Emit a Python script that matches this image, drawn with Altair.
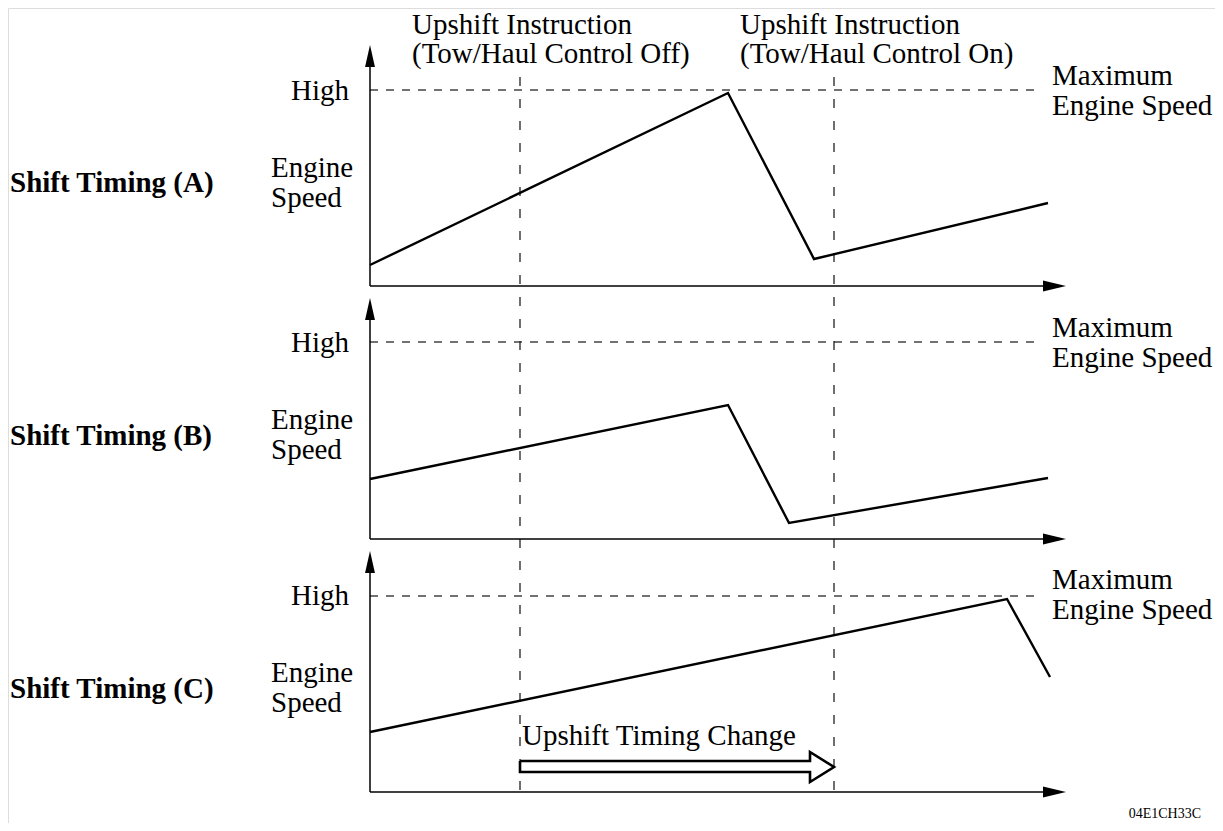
import altair as alt
import pandas as pd

# ---------------- data (diagram units ~ reference pixels) ----------------
panels = ["A", "B", "C"]
axis_x = 370
axis_top = [45, 298, 551]          # tips of the engine-speed axis arrows
axis_base = [286, 539, 792]        # time axes
high_level = [90, 342, 596]        # "High" = maximum engine speed
time_end = 1066                    # tip of the time-axis arrows
high_end = 1040

trace_A_t = [370, 728, 814, 1048]
trace_A_v = [265, 93, 259, 203]
trace_B_t = [370, 728, 789, 1048]
trace_B_v = [479, 405, 523, 478]
trace_C_t = [370, 1007, 1050]
trace_C_v = [732, 599, 677]

instr_off_t = 520
instr_on_t = 834
instr_top = 77

# hollow arrow "Upshift Timing Change"
arrow_t = [520, 810, 810, 834, 810, 810, 520, 520]
arrow_v = [761, 761, 752, 767, 782, 772, 772, 761]

panel_labels = ["Shift Timing (A)", "Shift Timing (B)", "Shift Timing (C)"]
panel_label_v = [192, 445, 698]
high_label_v = [100, 352, 605]
engine_v = [177, 429, 682]
speed_v = [207, 459, 712]
max_v = [85, 337, 589]
max2_v = [115, 367, 619]

top_texts = ["Upshift Instruction", "(Tow/Haul Control Off)",
             "Upshift Instruction", "(Tow/Haul Control On)"]
top_t = [412, 412, 740, 740]
top_v = [34, 63, 34, 63]

# ---------------- tables ----------------
FONT = "Liberation Serif, Times New Roman, Times, DejaVu Serif, serif"
FS = 29
xs = alt.Scale(domain=[8, 1215], nice=False, zero=False)
ys = alt.Scale(domain=[8, 823], nice=False, zero=False, reverse=True)


def X(f):
    return alt.X(f, type="quantitative", scale=xs, axis=None)


def Y(f):
    return alt.Y(f, type="quantitative", scale=ys, axis=None)


rows = []
for p, tt, vv in zip(panels, [trace_A_t, trace_B_t, trace_C_t],
                     [trace_A_v, trace_B_v, trace_C_v]):
    for i, (t, v) in enumerate(zip(tt, vv)):
        rows.append({"panel": p, "t": t, "v": v, "o": i})
traces = pd.DataFrame(rows)

solid = []
for top, base in zip(axis_top, axis_base):
    solid.append({"t": axis_x, "t2": axis_x, "v": top + 12, "v2": base})
    solid.append({"t": axis_x, "t2": time_end - 12, "v": base, "v2": base})
solid = pd.DataFrame(solid)

hdash = pd.DataFrame([{"t": axis_x, "t2": high_end, "v": h, "v2": h} for h in high_level])
vdash = pd.DataFrame([{"t": x, "t2": x, "v": instr_top, "v2": axis_base[-1]}
                      for x in [instr_off_t, instr_on_t]])

up_heads = pd.DataFrame({"t": [axis_x] * 3, "v": [a + 11 for a in axis_top]})
right_heads = pd.DataFrame({"t": [time_end - 11.5] * 3, "v": axis_base})

arrow = pd.DataFrame({"t": arrow_t, "v": arrow_v, "o": list(range(len(arrow_t)))})

left_txt = []
for i in range(3):
    left_txt += [
        {"t": 271, "v": engine_v[i], "s": "Engine"},
        {"t": 271, "v": speed_v[i], "s": "Speed"},
        {"t": 1052, "v": max_v[i], "s": "Maximum"},
        {"t": 1052, "v": max2_v[i], "s": "Engine Speed"},
    ]
for s, t, v in zip(top_texts, top_t, top_v):
    left_txt.append({"t": t, "v": v, "s": s})
left_txt.append({"t": 522, "v": 745, "s": "Upshift Timing Change"})
left_txt = pd.DataFrame(left_txt)

high_txt = pd.DataFrame({"t": [349] * 3, "v": high_label_v, "s": ["High"] * 3})
bold_txt = pd.DataFrame({"t": [10] * 3, "v": panel_label_v, "s": panel_labels})
id_txt = pd.DataFrame({"t": [1201], "v": [818], "s": ["04E1CH33C"]})

# ---------------- layers ----------------
line_layer = alt.Chart(traces).mark_line(color="black", strokeWidth=2.4, strokeJoin="miter").encode(
    x=X("t"), y=Y("v"), detail="panel:N", order="o:Q")

solid_layer = alt.Chart(solid).mark_rule(color="black", strokeWidth=1.5).encode(
    x=X("t"), x2="t2", y=Y("v"), y2="v2")

hdash_layer = alt.Chart(hdash).mark_rule(color="#444444", strokeWidth=1.3, strokeDash=[8, 8]).encode(
    x=X("t"), x2="t2", y=Y("v"), y2="v2")

vdash_layer = alt.Chart(vdash).mark_rule(color="#222222", strokeWidth=1.3, strokeDash=[9, 13]).encode(
    x=X("t"), x2="t2", y=Y("v"), y2="v2")

up_layer = alt.Chart(up_heads).mark_point(
    shape="M0,-1L0.45,1L-0.45,1Z", size=484, filled=True, color="black", opacity=1).encode(
    x=X("t"), y=Y("v"))

right_layer = alt.Chart(right_heads).mark_point(
    shape="M1,0L-1,-0.48L-1,0.48Z", size=529, filled=True, color="black", opacity=1).encode(
    x=X("t"), y=Y("v"))

arrow_layer = alt.Chart(arrow).mark_line(color="black", strokeWidth=2.6, strokeJoin="miter").encode(
    x=X("t"), y=Y("v"), order="o:Q")

left_text = alt.Chart(left_txt).mark_text(
    align="left", baseline="alphabetic", font=FONT, fontSize=FS, color="black").encode(
    x=X("t"), y=Y("v"), text="s:N")

high_text = alt.Chart(high_txt).mark_text(
    align="right", baseline="alphabetic", font=FONT, fontSize=FS, color="black").encode(
    x=X("t"), y=Y("v"), text="s:N")

bold_text = alt.Chart(bold_txt).mark_text(
    align="left", baseline="alphabetic", font=FONT, fontSize=FS, fontWeight="bold", color="black").encode(
    x=X("t"), y=Y("v"), text="s:N")

id_text = alt.Chart(id_txt).mark_text(
    align="right", baseline="alphabetic", font=FONT, fontSize=14, color="black").encode(
    x=X("t"), y=Y("v"), text="s:N")

chart = alt.layer(
    hdash_layer, vdash_layer, solid_layer, up_layer, right_layer,
    line_layer, arrow_layer, left_text, high_text, bold_text, id_text
).properties(
    width=1207, height=815, padding=0,
    autosize=alt.AutoSizeParams(type="none"),
).configure_view(stroke=None).configure(background="white")

chart.save("out.html", embed_options={"renderer": "svg", "actions": False})
